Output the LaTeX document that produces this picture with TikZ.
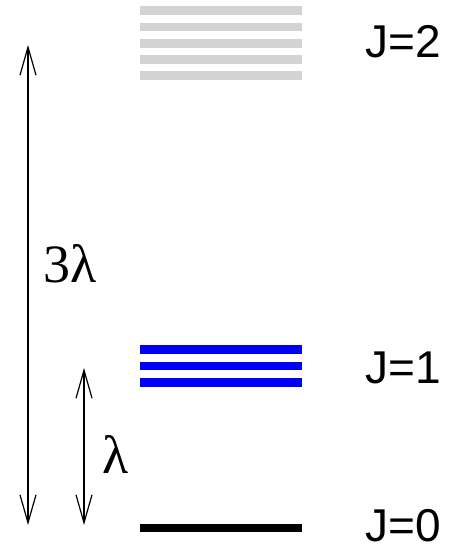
\documentclass[tikz,border=0pt]{standalone}
\usepackage{fontspec}
\setmainfont{Liberation Serif}
\setsansfont{Liberation Sans}
\usetikzlibrary{arrows.meta}
\definecolor{levgray}{RGB}{211,211,211}
\definecolor{levblue}{RGB}{0,0,245}

\begin{document}
\begin{tikzpicture}[x=0.5pt, y=-0.5pt, >={Straight Barb[length=14pt,width=8pt]},
  lev/.style={line width=4.3pt},
  jlbl/.style={font=\sffamily\fontsize{23}{23}\selectfont, anchor=base west, inner sep=0pt},
  gaplbl/.style={font=\fontsize{27}{27}\selectfont, anchor=base west, inner sep=0pt},
  gap/.style={<->, line width=0.6pt}]
  \useasboundingbox (0,0) rectangle (460,549);
  % J=2 sublevels
  \foreach \y in {10.5,27,43.3,59.5,75.7}
    \draw[lev, levgray] (140,\y) -- (302,\y);
  % J=1 sublevels
  \foreach \y in {349.7,366,382.2}
    \draw[lev, levblue] (140,\y) -- (302,\y);
  % J=0
  \draw[lev, black] (140,527.8) -- (302,527.8);
  \node[jlbl] (j2) at (365,58) {J=2};
  \node[jlbl] (j1) at (365,383) {J=1};
  \node[jlbl] (j0) at (365,541) {J=0};
  % splittings
  \coordinate (big top) at (28,45);
  \coordinate (big bot) at (28,525);
  \coordinate (small top) at (84,368);
  \coordinate (small bot) at (84,525);
  \draw[gap] (big top) -- (big bot);
  \draw[gap] (small top) -- (small bot);
  \node[gaplbl] (threelam) at (43,283) {3λ};
  \node[gaplbl] (lam) at (102,473) {λ};
\end{tikzpicture}
\end{document}
